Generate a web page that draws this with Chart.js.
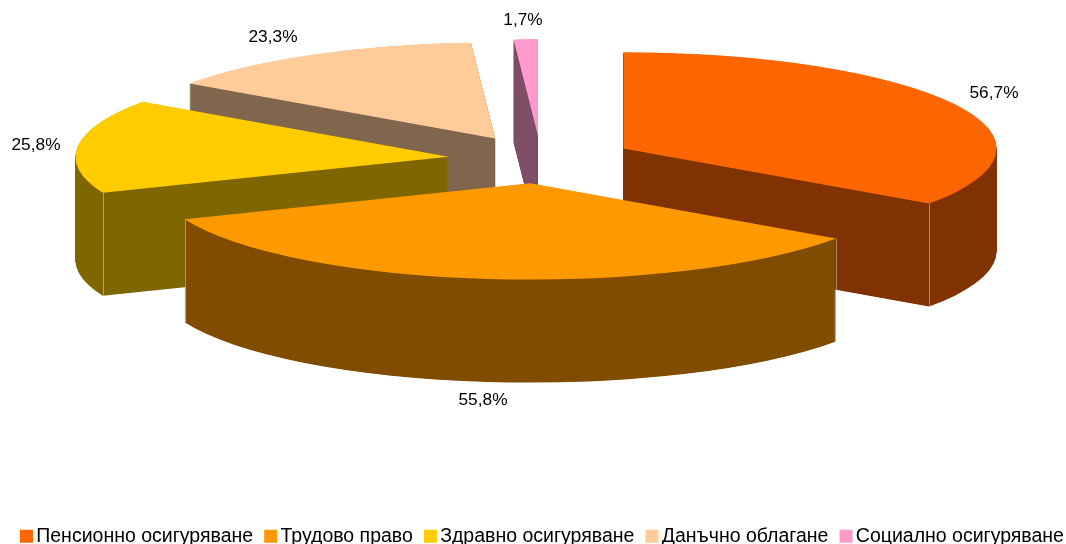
<!DOCTYPE html>
<html>
<head>
<meta charset="utf-8">
<style>html,body{margin:0;padding:0;background:#fff;overflow:hidden}canvas{display:block}</style>
<script src="https://cdn.jsdelivr.net/npm/chart.js@4"></script>
</head>
<body>
<canvas id="c" width="1066" height="544"></canvas>
<script>
const categories = ['Пенсионно осигуряване','Трудово право','Здравно осигуряване','Данъчно облагане','Социално осигуряване'];
const seriesValues = [56.7,55.8,25.8,23.3,1.7];
const topColors = ['#FF6600','#FF9900','#FFCC00','#FFCC99','#FF99CC'];
const wallColors = ['#803300','#804D00','#806600','#80664D','#804D66'];
const labelAnchors = [[994,93],[483,400],[36,145],[273,37],[523,20]];

const HUB_X = 541, HUB_Y = 159.5, TILT = 0.258, DEPTH = 103, EXPLODE = 93;
const FONT_FAMILY = '"Liberation Sans", Arial, sans-serif';

function place(ctx, arc, dy){
  const mid = (arc.startAngle + arc.endAngle) / 2;
  ctx.translate(HUB_X, HUB_Y + dy);
  ctx.scale(1, TILT);
  ctx.translate(Math.cos(mid) * EXPLODE, Math.sin(mid) * EXPLODE);
  ctx.translate(-arc.x, -arc.y);
}
function seam(ctx, arc, angle){
  if (Math.sin(angle) <= 0) return;
  const mid = (arc.startAngle + arc.endAngle) / 2;
  const R = arc.outerRadius;
  const x = Math.round(HUB_X + Math.cos(mid) * EXPLODE + Math.cos(angle) * R) + 0.5;
  const y = HUB_Y + (Math.sin(mid) * EXPLODE + Math.sin(angle) * R) * TILT;
  ctx.beginPath();
  ctx.moveTo(x, y);
  ctx.lineTo(x, y + DEPTH);
  ctx.stroke();
}
const layer = document.createElement('canvas');
const pie3d = {
  id: 'pie3d',
  beforeDatasetsDraw(chart){
    const ctx = chart.ctx;
    layer.width = chart.width;
    layer.height = chart.height;
    const lctx = layer.getContext('2d');
    const arcs = chart.getDatasetMeta(0).data.map((arc, i) => ({arc, i}));
    arcs.sort((a, b) => Math.sin((a.arc.startAngle + a.arc.endAngle) / 2) - Math.sin((b.arc.startAngle + b.arc.endAngle) / 2));
    for (const {arc, i} of arcs) {
      // extruded wall: stack the library's arc into a mask, then flood it with one flat colour
      lctx.globalCompositeOperation = 'source-over';
      lctx.clearRect(0, 0, layer.width, layer.height);
      for (let k = DEPTH; k >= 0.5; k -= 0.5) {
        lctx.save();
        place(lctx, arc, k);
        arc.draw(lctx);
        lctx.restore();
      }
      lctx.globalCompositeOperation = 'source-in';
      lctx.fillStyle = wallColors[i];
      lctx.fillRect(0, 0, layer.width, layer.height);
      ctx.drawImage(layer, 0, 0);

      ctx.save();
      ctx.strokeStyle = 'rgba(255,255,255,0.4)';
      ctx.lineWidth = 1;
      seam(ctx, arc, arc.startAngle);
      seam(ctx, arc, arc.endAngle);
      ctx.restore();

      ctx.save();
      place(ctx, arc, 0);
      arc.draw(ctx);
      ctx.restore();
    }
    ctx.save();
    ctx.font = '17.3px ' + FONT_FAMILY;
    ctx.fillStyle = '#000';
    ctx.textAlign = 'center';
    ctx.textBaseline = 'middle';
    seriesValues.forEach((v, i) => {
      ctx.fillText(v.toFixed(1).replace('.', ',') + '%', labelAnchors[i][0], labelAnchors[i][1]);
    });
    ctx.restore();
    return false;
  },
  afterLayout(chart){
    const l = chart.legend;
    l.maxWidth = 2000;
    l.fit();
    l.left = 8.9;
    l.right = 2000;
    l.top = 508.9;
    l.bottom = 544;
  }
};

new Chart(document.getElementById('c'), {
  type: 'pie',
  data: {
    labels: categories,
    datasets: [{
      data: seriesValues,
      backgroundColor: topColors,
      borderWidth: 0,
      radius: 373
    }]
  },
  plugins: [pie3d],
  options: {
    responsive: false,
    animation: false,
    events: [],
    layout: {padding: 0},
    plugins: {
      tooltip: {enabled: false},
      legend: {
        position: 'bottom',
        align: 'start',
        labels: {
          boxWidth: 0.01,
          boxHeight: 0.01,
          padding: 17.6,
          color: '#000',
          font: {family: FONT_FAMILY, size: 19.5},
          generateLabels: (chart) => categories.map((text, i) => ({
            text,
            fillStyle: topColors[i],
            strokeStyle: topColors[i],
            lineWidth: 13,
            fontColor: '#000',
            index: i,
            hidden: false
          }))
        }
      }
    }
  }
});
</script>
</body>
</html>
